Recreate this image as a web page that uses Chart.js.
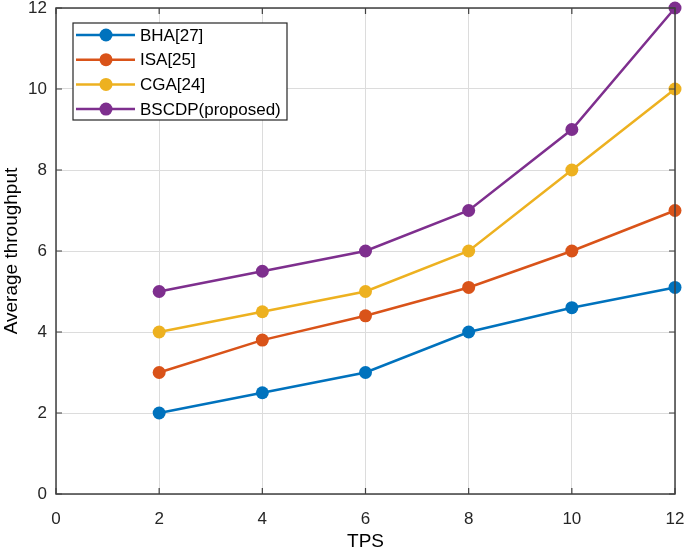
<!DOCTYPE html>
<html>
<head>
<meta charset="utf-8">
<script src="https://cdn.jsdelivr.net/npm/chart.js@4.4.1/dist/chart.umd.min.js"></script>
<style>
  html, body { margin: 0; padding: 0; background: #fff; }
  #wrap { width: 685px; height: 553px; }
</style>
</head>
<body>
<div id="wrap"><canvas id="tpsChart"></canvas></div>
<script>
// values
const tps = [2, 4, 6, 8, 10, 12];
const bha = [2, 2.5, 3, 4, 4.6, 5.1];
const isa = [3, 3.8, 4.4, 5.1, 6, 7];
const cga = [4, 4.5, 5, 6, 8, 10];
const bscdp = [5, 5.5, 6, 7, 9, 12];
const seriesNames = ['BHA[27]', 'ISA[25]', 'CGA[24]', 'BSCDP(proposed)'];
const seriesColors = ['#0072BD', '#D95319', '#EDB120', '#7E2F8E'];
const axisTicks = [0, 2, 4, 6, 8, 10, 12];

const FONT = "'Liberation Sans', Arial, Helvetica, sans-serif";

function toPoints(values) {
    return tps.map((t, i) => ({ x: t, y: values[i] }));
}

const datasets = [bha, isa, cga, bscdp].map((vals, i) => ({
    label: seriesNames[i],
    data: toPoints(vals),
    borderColor: seriesColors[i],
    backgroundColor: seriesColors[i],
    borderWidth: 2.5,
    pointRadius: 6.5,
    pointHoverRadius: 6.5,
    pointBorderWidth: 0,
    tension: 0,
    clip: 8
}));

// box around the plot plus inward ticks on every side, matlab style
const boxPlugin = {
    id: 'boxPlugin',
    afterDatasetsDraw(chart) {
        const { ctx, chartArea: a, scales } = chart;
        ctx.save();
        ctx.strokeStyle = '#404040';
        ctx.lineWidth = 1.2;
        ctx.beginPath();
        axisTicks.forEach(v => {
            const x = scales.x.getPixelForValue(v);
            ctx.moveTo(x, a.bottom); ctx.lineTo(x, a.bottom - 6);
            ctx.moveTo(x, a.top); ctx.lineTo(x, a.top + 6);
            const y = scales.y.getPixelForValue(v);
            ctx.moveTo(a.left, y); ctx.lineTo(a.left + 6, y);
            ctx.moveTo(a.right, y); ctx.lineTo(a.right - 6, y);
        });
        ctx.stroke();
        ctx.lineWidth = 1.5;
        ctx.strokeRect(a.left, a.top, a.right - a.left, a.bottom - a.top);
        ctx.restore();
    }
};

// legend drawn inside the plot, top-left
const insideLegend = {
    id: 'insideLegend',
    afterDraw(chart) {
        const { ctx, chartArea: a } = chart;
        const bx = a.left + 17, by = a.top + 15, bw = 214, bh = 97;
        ctx.save();
        ctx.fillStyle = '#fff';
        ctx.fillRect(bx, by, bw, bh);
        ctx.strokeStyle = '#262626';
        ctx.lineWidth = 1.2;
        ctx.strokeRect(bx, by, bw, bh);
        ctx.font = '17px ' + FONT;
        ctx.textBaseline = 'middle';
        chart.data.datasets.forEach((ds, i) => {
            const y = by + 12 + i * 24.7;
            ctx.strokeStyle = ds.borderColor;
            ctx.lineWidth = 2.5;
            ctx.beginPath();
            ctx.moveTo(bx + 3, y);
            ctx.lineTo(bx + 62, y);
            ctx.stroke();
            ctx.fillStyle = ds.backgroundColor;
            ctx.beginPath();
            ctx.arc(bx + 33, y, 6.5, 0, Math.PI * 2);
            ctx.fill();
            ctx.fillStyle = '#000';
            ctx.fillText(ds.label, bx + 67, y + 1);
        });
        ctx.restore();
    }
};

const ctx = document.getElementById('tpsChart').getContext('2d');
new Chart(ctx, {
    type: 'line',
    data: { datasets: datasets },
    options: {
        responsive: true,
        maintainAspectRatio: false,
        animation: false,
        layout: { padding: { left: 0, right: 10, top: 8, bottom: 0 } },
        plugins: {
            legend: { display: false },
            tooltip: { enabled: false }
        },
        scales: {
            x: {
                type: 'linear',
                min: 0,
                max: 12,
                afterBuildTicks: s => { s.ticks = axisTicks.map(v => ({ value: v })); },
                afterFit: s => { s.height = 59; s.paddingLeft = 0; s.paddingRight = 0; },
                grid: { color: '#dcdcdc', lineWidth: 1, drawTicks: false },
                border: { display: false },
                ticks: { color: '#262626', font: { family: FONT, size: 17 }, padding: 15, maxRotation: 0 },
                title: {
                    display: true,
                    text: 'TPS',
                    color: '#000',
                    font: { family: FONT, size: 19 },
                    padding: { top: 3, bottom: 0 }
                }
            },
            y: {
                min: 0,
                max: 12,
                afterBuildTicks: s => { s.ticks = axisTicks.map(v => ({ value: v })); },
                afterFit: s => { s.width = 56; s.paddingTop = 0; s.paddingBottom = 0; },
                grid: { color: '#dcdcdc', lineWidth: 1, drawTicks: false },
                border: { display: false },
                ticks: { color: '#262626', font: { family: FONT, size: 17 }, padding: 9 },
                title: {
                    display: true,
                    text: 'Average throughput',
                    color: '#000',
                    font: { family: FONT, size: 19 },
                    padding: { top: 0, bottom: 2 }
                }
            }
        }
    },
    plugins: [boxPlugin, insideLegend]
});
</script>
</body>
</html>
